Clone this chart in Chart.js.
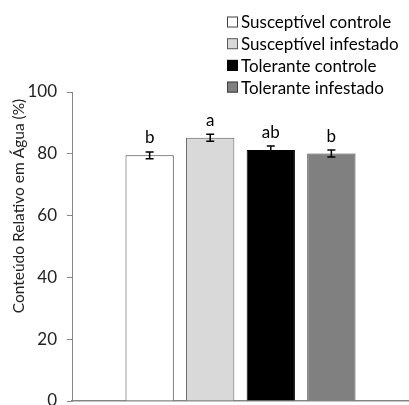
<!DOCTYPE html>
<html>
<head>
<meta charset="utf-8">
<script src="https://cdn.jsdelivr.net/npm/chart.js@4"></script>
<style>
  html, body { margin: 0; padding: 0; background: #fff; }
  #wrap { width: 409px; height: 405px; }
</style>
</head>
<body>
<div id="wrap"><canvas id="chart" width="409" height="405"></canvas></div>
<script>
// data
const groups = ['Susceptível controle', 'Susceptível infestado', 'Tolerante controle', 'Tolerante infestado'];
const means = [79.5, 85.2, 81.2, 80.1];
const errors = [1.1, 1.1, 1.3, 1.1];
const letters = ['b', 'a', 'ab', 'b'];
const yTicks = [0, 20, 40, 60, 80, 100];

const fills = ['#ffffff', '#d9d9d9', '#000000', '#808080'];
const edges = ['#404040', '#595959', '#000000', '#404040'];
const FONT = 'Lato, Carlito, "Open Sans", sans-serif';
const axisColor = '#868686';

const datasets = groups.map((g, i) => ({
    label: g,
    data: [means[i]],
    backgroundColor: fills[i],
    borderColor: edges[i],
    borderWidth: 1,
    categoryPercentage: 0.719,
    barPercentage: 0.797
}));

// error bars, letters, legend and y title
const extras = {
    id: 'extras',
    afterDatasetsDraw(chart) {
        const ctx = chart.ctx;
        const y = chart.scales.y;
        ctx.save();
        ctx.strokeStyle = '#000';
        ctx.lineWidth = 1.5;
        ctx.fillStyle = '#000';
        ctx.font = '17px ' + FONT;
        ctx.textAlign = 'center';
        ctx.textBaseline = 'middle';
        groups.forEach((g, i) => {
            const bar = chart.getDatasetMeta(i).data[0];
            const x = bar.x;
            const top = y.getPixelForValue(means[i] + errors[i]);
            const bot = y.getPixelForValue(means[i] - errors[i]);
            ctx.beginPath();
            ctx.moveTo(x, top); ctx.lineTo(x, bot);
            ctx.moveTo(x - 4, top); ctx.lineTo(x + 4, top);
            ctx.moveTo(x - 4, bot); ctx.lineTo(x + 4, bot);
            ctx.stroke();
            ctx.fillText(letters[i], x, top - 14);
        });

        // legend
        ctx.textAlign = 'left';
        ctx.lineWidth = 1;
        groups.forEach((g, i) => {
            const ry = 22 + i * 21.7;
            ctx.fillStyle = fills[i];
            ctx.fillRect(227, ry - 5.5, 11, 11);
            ctx.strokeStyle = edges[i];
            ctx.strokeRect(227.5, ry - 5, 10, 10);
            ctx.fillStyle = '#000';
            ctx.fillText(g, 241, ry + 1);
        });

        // y axis title
        ctx.save();
        ctx.translate(19, 206);
        ctx.rotate(-Math.PI / 2);
        ctx.textAlign = 'center';
        ctx.font = '15.5px ' + FONT;
        ctx.fillStyle = '#222';
        ctx.fillText('Conteúdo Relativo em Água (%)', 0, 0);
        ctx.restore();
        ctx.restore();
    }
};

new Chart(document.getElementById('chart'), {
    type: 'bar',
    data: { labels: [''], datasets: datasets },
    options: {
        responsive: false,
        animation: false,
        layout: { padding: { top: 92, right: -5, bottom: 4, left: 0 } },
        plugins: { legend: { display: false }, tooltip: { enabled: false } },
        scales: {
            x: {
                grid: { display: false, drawTicks: false },
                ticks: { display: false },
                border: { color: axisColor, width: 1.5 }
            },
            y: {
                min: 0,
                max: 100,
                afterBuildTicks: (s) => { s.ticks = yTicks.map(v => ({ value: v })); },
                afterFit: (s) => { s.width = 72; s.paddingTop = 0; s.paddingBottom = 0; },
                grid: { drawOnChartArea: false, color: axisColor, tickLength: 5, lineWidth: 1 },
                border: { color: axisColor, width: 1 },
                ticks: { color: '#222', padding: 10, font: { size: 17, family: FONT } }
            }
        }
    },
    plugins: [extras]
});
</script>
</body>
</html>
